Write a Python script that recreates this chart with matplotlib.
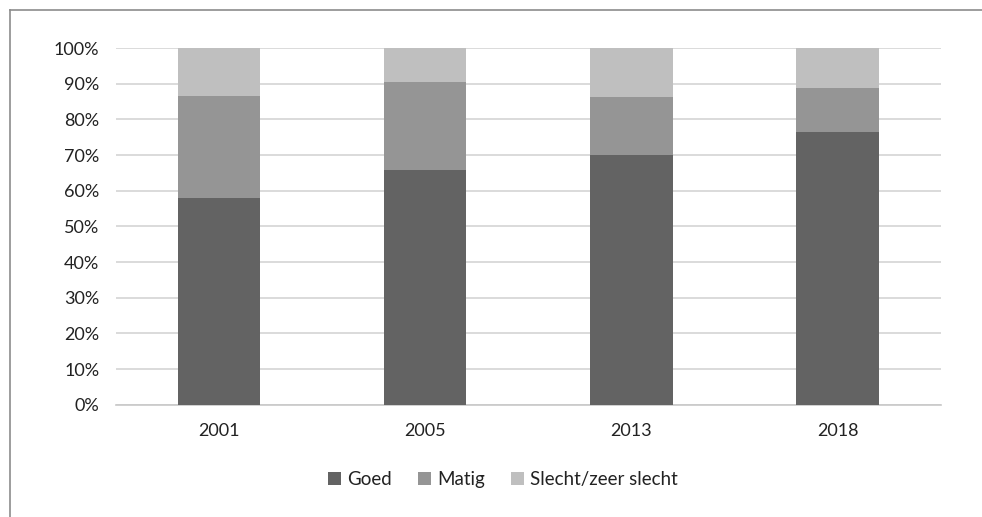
import matplotlib.pyplot as plt
from matplotlib.lines import Line2D
from matplotlib.ticker import PercentFormatter
import numpy as np

plt.rcParams['font.family'] = ['Lato', 'DejaVu Sans']

# Share per category (%)
years = ['2001', '2005', '2013', '2018']
goed = [58.0, 65.8, 70.0, 76.5]
matig = [28.6, 24.7, 16.3, 12.4]
slecht = [13.4, 9.5, 13.7, 11.1]

labels = ['Goed', 'Matig', 'Slecht/zeer slecht']
colors = ['#636363', '#959595', '#bfbfbf']

fig = plt.figure(figsize=(9.82, 5.17), dpi=100)
ax = fig.add_axes([0.118, 0.217, 0.840, 0.690])

x = np.arange(len(years))
width = 0.4
bottom = np.zeros(len(years))
for vals, lab, col in zip([goed, matig, slecht], labels, colors):
    ax.bar(x, vals, width, bottom=bottom, color=col, label=lab, zorder=3)
    bottom += np.array(vals)

ax.set_xlim(-0.5, len(years) - 0.5)
ax.set_ylim(0, 100)
ax.set_yticks(np.arange(0, 101, 10))
ax.yaxis.set_major_formatter(PercentFormatter(decimals=0))
ax.set_xticks(x)
ax.set_xticklabels(years)
ax.tick_params(axis='both', length=0, labelsize=13, colors='#222222')
ax.tick_params(axis='x', pad=13)
ax.tick_params(axis='y', pad=12)
ax.grid(axis='y', color='#d4d4d4', linewidth=1.2, zorder=0)
for s in ['top', 'right', 'left']:
    ax.spines[s].set_visible(False)
ax.spines['bottom'].set_color('#c8c8c8')
ax.spines['bottom'].set_linewidth(1.2)

fig.legend(loc='center', bbox_to_anchor=(0.512, 0.072), ncol=3, frameon=False,
           fontsize=13.5, handlelength=0.7, handleheight=0.7, handletextpad=0.3,
           columnspacing=1.4, labelcolor='#222222')

# outer frame (top and left edges visible)
fx = 10 / 982
fy = 1 - 10 / 517
fig.add_artist(Line2D([fx, 1], [fy, fy], transform=fig.transFigure, color='#8c8c8c', lw=1.2))
fig.add_artist(Line2D([fx, fx], [0, fy], transform=fig.transFigure, color='#8c8c8c', lw=1.2))

plt.savefig('out.png', dpi=100)
